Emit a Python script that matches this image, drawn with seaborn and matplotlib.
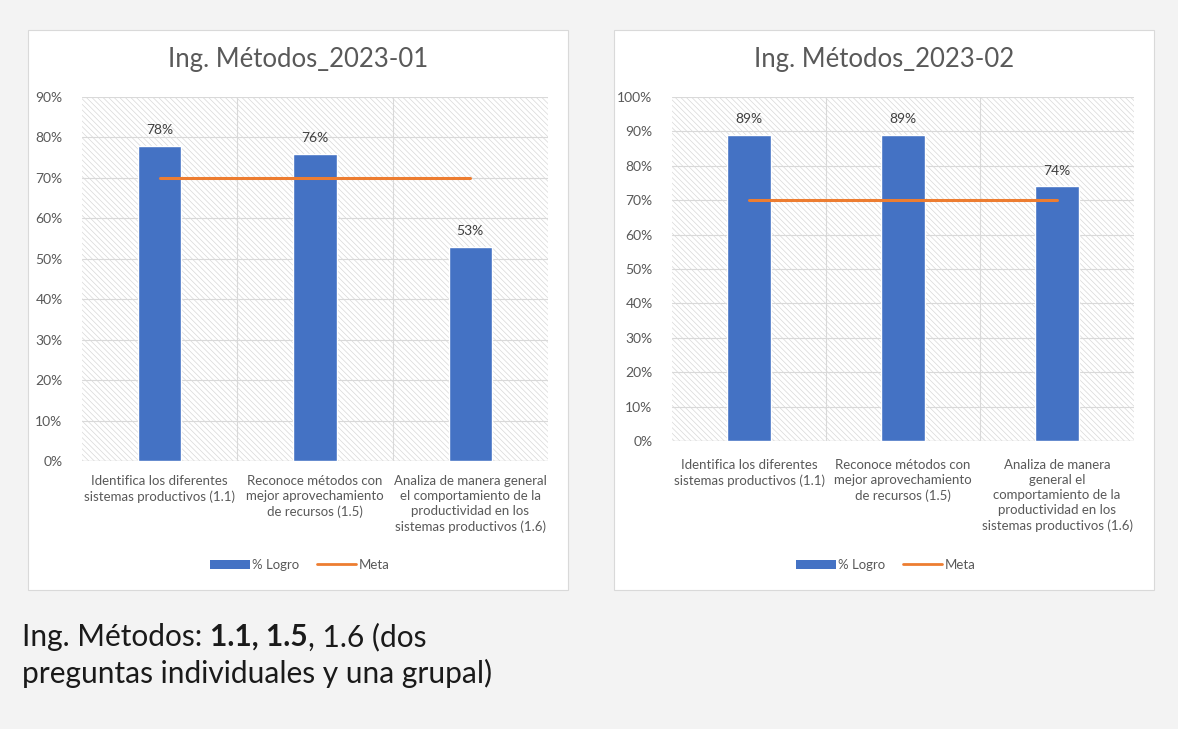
import matplotlib
matplotlib.use("Agg")
import matplotlib.pyplot as plt
import seaborn as sns
import pandas as pd
from matplotlib.patches import Rectangle, Patch
from matplotlib.lines import Line2D
from matplotlib.ticker import PercentFormatter

sns.set_theme(style="white")
plt.rcParams['font.family'] = ['Lato', 'DejaVu Sans']

categories = ["1.1", "1.5", "1.6"]
logro_2023_01 = [0.78, 0.76, 0.53]
logro_2023_02 = [0.89, 0.89, 0.74]
meta_2023_01 = [0.70, 0.70, 0.70]
meta_2023_02 = [0.70, 0.70, 0.70]
titles = ["Ing. Métodos_2023-01", "Ing. Métodos_2023-02"]
ticklabels_01 = ["Identifica los diferentes\nsistemas productivos (1.1)",
                 "Reconoce métodos con\nmejor aprovechamiento\nde recursos (1.5)",
                 "Analiza de manera general\nel comportamiento de la\nproductividad en los\nsistemas productivos (1.6)"]
ticklabels_02 = ["Identifica los diferentes\nsistemas productivos (1.1)",
                 "Reconoce métodos con\nmejor aprovechamiento\nde recursos (1.5)",
                 "Analiza de manera\ngeneral el\ncomportamiento de la\nproductividad en los\nsistemas productivos (1.6)"]
ymax_01, ymax_02 = 0.90, 1.00

BLUE = "#4472C4"
ORANGE = "#ED7D31"
GRAY = "#595959"

fig = plt.figure(figsize=(11.78, 7.29), dpi=100)
fig.patch.set_facecolor("#f3f3f3")

W, H = 1178, 729
def fx(px): return px / W
def fy(py): return 1 - py / H
for x0 in (28, 614):
    fig.patches.append(Rectangle((fx(x0), fy(590)), 540 / W, 560 / H, transform=fig.transFigure,
                                 facecolor="white", edgecolor="#d9d9d9", linewidth=0.8, zorder=-5))

axL = fig.add_axes([fx(82), fy(461), (548 - 82) / W, (461 - 97) / H])
axR = fig.add_axes([fx(672), fy(441), (1134 - 672) / W, (441 - 97) / H])
for a in (axL, axR):
    a.set_zorder(3)

plt.rcParams['hatch.linewidth'] = 0.5

def draw(ax, vals, meta, ymax, labels, title, title_x, legend_x, xpad):
    df = pd.DataFrame({"cat": categories, "logro": vals, "meta": meta})
    ax.set_facecolor("white")
    ax.add_patch(Rectangle((0, 0), 1, 1, transform=ax.transAxes, facecolor="white",
                           edgecolor="#d8d8d8", hatch="\\\\\\\\\\\\", linewidth=0, zorder=0))
    sns.barplot(data=df, x="cat", y="logro", color=BLUE, width=0.28, ax=ax,
                saturation=1, zorder=3)
    sns.lineplot(data=df, x="cat", y="meta", color=ORANGE, linewidth=2.2, ax=ax,
                 zorder=4, sort=False)
    ax.set_xlim(-0.5, 2.5)
    ax.set_ylim(0, ymax)
    ax.set_yticks([i / 10 for i in range(int(round(ymax * 10)) + 1)])
    ax.yaxis.set_major_formatter(PercentFormatter(1.0, decimals=0))
    ax.set_xticks(range(len(categories)))
    ax.set_xticklabels(labels, fontsize=9.5, color=GRAY, linespacing=1.3)
    ax.tick_params(axis="y", labelsize=10, labelcolor=GRAY, length=0, pad=14)
    ax.tick_params(axis="x", length=0, pad=xpad)
    ax.set_xlabel("")
    ax.set_ylabel("")
    ax.grid(axis="y", color="#d9d9d9", linewidth=0.8, zorder=1)
    for xb in (0.5, 1.5):
        ax.axvline(xb, color="#d9d9d9", linewidth=0.8, zorder=1)
    ax.set_axisbelow(True)
    for s in ax.spines.values():
        s.set_visible(False)
    ax.axhline(0, color="#d9d9d9", linewidth=1, zorder=2)
    for i, v in enumerate(vals):
        ax.annotate(f"{round(v * 100):.0f}%", (i, v), xytext=(0, 7), textcoords="offset points",
                    ha="center", va="bottom", fontsize=10, color="#404040")
    fig.text(fx(title_x), fy(60), title, ha="center", va="center", fontsize=18.5, color=GRAY)
    handles = [Patch(facecolor=BLUE, edgecolor="none"),
               Line2D([0], [0], color=ORANGE, linewidth=2)]
    fig.legend(handles, ["% Logro", "Meta"], loc="center", bbox_to_anchor=(fx(legend_x), fy(565)),
               ncol=2, frameon=False, fontsize=9.5, labelcolor=GRAY, handlelength=3.0,
               handleheight=0.7, handletextpad=0.2, columnspacing=1.3)

draw(axL, logro_2023_01, meta_2023_01, ymax_01, ticklabels_01, titles[0], 298, 300, 10)
draw(axR, logro_2023_02, meta_2023_02, ymax_02, ticklabels_02, titles[1], 884, 886, 13)

fs = 21.5
t1 = fig.text(fx(22), fy(646), "Ing. Métodos: ", fontsize=fs, color="#1a1a1a", va="baseline")
t2 = fig.text(0, 0, "1.1, 1.5", fontsize=fs, color="#1a1a1a", weight="bold", va="baseline")
t3 = fig.text(0, 0, ", 1.6 (dos", fontsize=fs, color="#1a1a1a", va="baseline")
fig.canvas.draw()
r = fig.canvas.get_renderer()
bb1 = t1.get_window_extent(r)
t2.set_position((bb1.x1 / W, fy(646)))
fig.canvas.draw()
bb2 = t2.get_window_extent(r)
t3.set_position((bb2.x1 / W, fy(646)))
fig.text(fx(22), fy(683), "preguntas individuales y una grupal)", fontsize=fs, color="#1a1a1a",
         va="baseline")

fig.savefig("out.png", dpi=100, facecolor=fig.get_facecolor())
